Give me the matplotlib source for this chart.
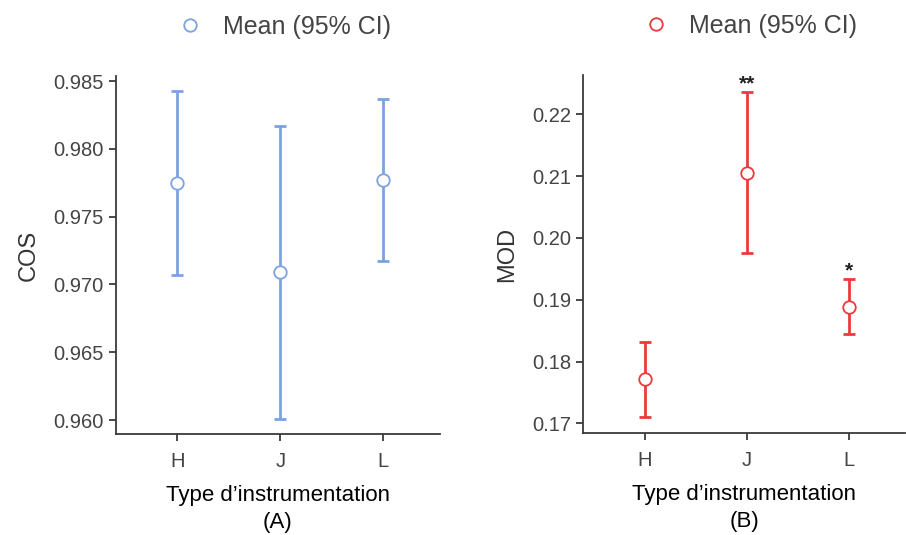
import matplotlib
matplotlib.use('Agg')
import matplotlib.pyplot as plt
import numpy as np

plt.rcParams['font.family'] = ['Liberation Sans', 'DejaVu Sans']

# categories and values
groups = ['H', 'J', 'L']

cos_mean = [0.9775, 0.9709, 0.9777]
cos_low = [0.9707, 0.9601, 0.9717]
cos_high = [0.9843, 0.9817, 0.9837]

mod_mean = [0.1771, 0.2105, 0.1888]
mod_low = [0.1711, 0.1975, 0.1844]
mod_high = [0.1832, 0.2237, 0.1934]
mod_stars = ['', '**', '*']

BLUE = '#7BA3E0'
RED = '#EC3A3A'
GREY = '#3a3a3a'

fig = plt.figure(figsize=(9.06, 5.35), dpi=100)
ax1 = fig.add_axes([0.1277, 0.1888, 0.358, 0.669])
ax2 = fig.add_axes([0.6438, 0.1901, 0.355, 0.669])


def draw_panel(ax, mean, low, high, color, ylabel, yticks, ylim, fmt, letter):
    x = np.arange(len(groups))
    mean = np.array(mean)
    err = [mean - np.array(low), np.array(high) - mean]
    ax.errorbar(x, mean, yerr=err, fmt='none', ecolor=color,
                elinewidth=2.0, capsize=4.5, capthick=2.0, zorder=2)
    ax.plot(x, mean, 'o', ms=9, mfc='white', mec=color, mew=1.3, zorder=3)
    ax.set_xlim(-0.6, 2.55)
    ax.set_ylim(*ylim)
    ax.set_yticks(yticks)
    ax.yaxis.set_major_formatter(plt.FuncFormatter(lambda v, p: fmt.format(v)))
    ax.set_xticks(x)
    ax.set_xticklabels(groups)
    for s in ['top', 'right']:
        ax.spines[s].set_visible(False)
    for s in ['left', 'bottom']:
        ax.spines[s].set_color(GREY)
        ax.spines[s].set_linewidth(1.3)
    ax.tick_params(axis='both', colors=GREY, labelsize=14.5, length=5,
                   width=1.3, labelcolor='#444444')
    ax.tick_params(axis='x', pad=8)
    ax.set_ylabel(ylabel, fontsize=17, color='#333333', labelpad=10)
    ax.set_xlabel('Type d\u2019instrumentation\n(' + letter + ')',
                  fontsize=16, color='black', labelpad=10, linespacing=1.35)
    leg = ax.legend([plt.Line2D([], [], marker='o', ls='none', ms=9, mfc='white',
                                mec=color, mew=1.3)],
                    ['Mean (95% CI)'], loc='lower center',
                    bbox_to_anchor=(0.5, 1.055), frameon=False, fontsize=18,
                    handletextpad=0.3, borderaxespad=0.3)
    for t in leg.get_texts():
        t.set_color('#444444')


draw_panel(ax1, cos_mean, cos_low, cos_high, BLUE, 'COS',
           [0.960, 0.965, 0.970, 0.975, 0.980, 0.985], (0.95897, 0.98537),
           '{:.3f}', 'A')
draw_panel(ax2, mod_mean, mod_low, mod_high, RED, 'MOD',
           [0.17, 0.18, 0.19, 0.20, 0.21, 0.22], (0.16839, 0.22632),
           '{:.2f}', 'B')

for i, s in enumerate(mod_stars):
    if s:
        ax2.annotate(s, xy=(i, mod_high[i]), xytext=(0, -1), textcoords='offset points',
                     ha='center', va='bottom', fontsize=15, fontweight='bold',
                     color='#222222')

fig.savefig('out.png', dpi=100, facecolor='white')
